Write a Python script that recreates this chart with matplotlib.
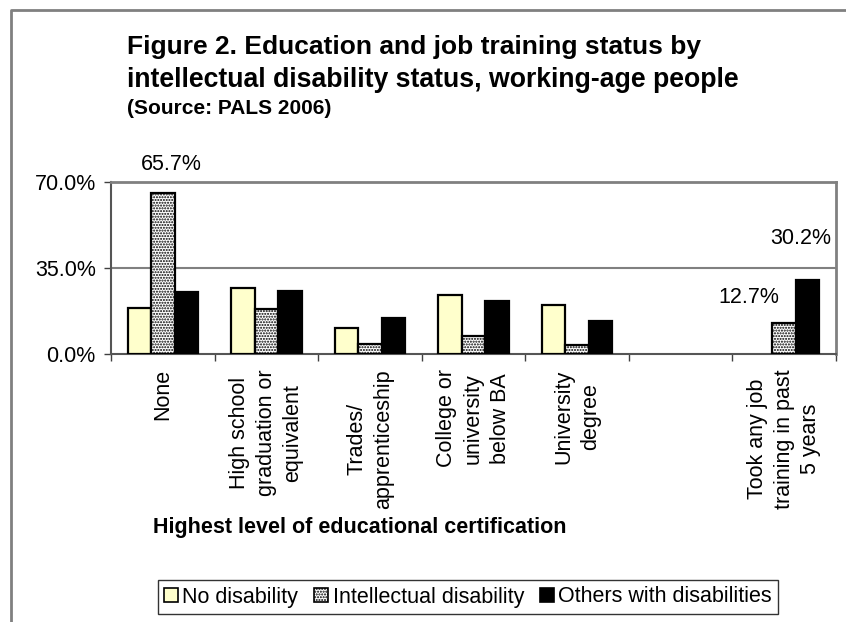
import numpy as np
import matplotlib
matplotlib.use("Agg")
import matplotlib.pyplot as plt
from matplotlib.lines import Line2D
from matplotlib.patches import Patch

plt.rcParams['font.family'] = ['Liberation Sans', 'DejaVu Sans']
plt.rcParams['hatch.linewidth'] = 1.0

# 数据
categories = ["None", "High school\ngraduation or\nequivalent", "Trades/\napprenticeship",
              "College or\nuniversity\nbelow BA", "University\ndegree", "",
              "Took any job\ntraining in past\n5 years"]
no_disability = [18.8, 26.8, 10.6, 23.9, 20.1, np.nan, np.nan]
intellectual = [65.7, 18.5, 3.9, 7.5, 3.7, np.nan, 12.7]
others = [25.4, 25.7, 14.8, 21.7, 13.6, np.nan, 30.2]
series_names = ["No disability", "Intellectual disability", "Others with disabilities"]
y_ticks = [0, 35, 70]
y_tick_labels = ["0.0%", "35.0%", "70.0%"]

fs = 15.5

fig = plt.figure(figsize=(8.46, 6.22), dpi=100)
ax = fig.add_axes([111 / 846, 1 - 354 / 622, 725 / 846, 172 / 622])

x = np.arange(len(categories))
w = 0.227
ax.bar(x - w, no_disability, w, color="#FFFFCC", edgecolor="black", linewidth=1.6, zorder=3)
ax.bar(x, intellectual, w, color="white", edgecolor="black", hatch="......", linewidth=1.6, zorder=3)
ax.bar(x + w, others, w, color="black", edgecolor="black", linewidth=1.6, zorder=3)

ax.set_xlim(-0.5, len(categories) - 0.5)
ax.set_ylim(0, 70)
ax.set_yticks(y_ticks)
ax.set_yticklabels(y_tick_labels, fontsize=fs)
ax.tick_params(axis="y", length=5, width=1, color="#404040", pad=6)
ax.set_xticks(np.arange(-0.5, len(categories), 1.0))
ax.set_xticklabels([])
ax.tick_params(axis="x", length=5, width=1, color="#404040")
ax.axhline(35, color="#808080", linewidth=1.5, zorder=1)

for s in ["top", "right"]:
    ax.spines[s].set_color("#808080")
    ax.spines[s].set_linewidth(2)
ax.spines["left"].set_color("#555555")
ax.spines["left"].set_linewidth(1.5)
ax.spines["bottom"].set_color("#555555")
ax.spines["bottom"].set_linewidth(1.5)

# 类别标签
for i, lab in enumerate(categories):
    ax.annotate(lab, xy=(i, 0), xycoords="data", xytext=(0, -11), textcoords="offset points",
                rotation=90, ha="center", va="top", multialignment="center", fontsize=fs,
                linespacing=1.35, annotation_clip=False)

# 数据标签
bbox = dict(facecolor="white", edgecolor="none", pad=3)
ax.text(0.08, 77, "65.7%", ha="center", va="center", fontsize=fs, bbox=bbox, clip_on=False, zorder=5)
ax.text(6.16, 46.9, "30.2%", ha="center", va="center", fontsize=fs, bbox=bbox, clip_on=False, zorder=5)
ax.text(5.66, 22.8, "12.7%", ha="center", va="center", fontsize=fs, bbox=bbox, clip_on=False, zorder=5)

# 标题
fig.text(127 / 846, 1 - 47 / 622, "Figure 2. Education and job training status by",
         fontsize=19, fontweight="bold", va="center", ha="left")
fig.text(127 / 846, 1 - 80 / 622, "intellectual disability status, working-age people",
         fontsize=19.2, fontweight="bold", va="center", ha="left")
fig.text(127 / 846, 1 - 108 / 622, "(Source: PALS 2006)",
         fontsize=15, fontweight="bold", va="center", ha="left")
fig.text(360 / 846, 1 - 527 / 622, "Highest level of educational certification",
         fontsize=fs, fontweight="bold", va="center", ha="center")

# 图例
handles = [Patch(facecolor="#FFFFCC", edgecolor="black", linewidth=1.2),
           Patch(facecolor="white", edgecolor="black", hatch="......", linewidth=1.2),
           Patch(facecolor="black", edgecolor="black", linewidth=1.2)]
leg = fig.legend(handles, series_names, loc="center", bbox_to_anchor=(468 / 846, 1 - 597 / 622),
                 ncol=3, fontsize=fs, frameon=True, fancybox=False, handlelength=0.65,
                 handleheight=0.65, handletextpad=0.2, columnspacing=0.75, borderpad=0.3,
                 borderaxespad=0)
leg.get_frame().set_edgecolor("black")
leg.get_frame().set_linewidth(1.0)

# 外框
fig.add_artist(Line2D([11 / 846, 11 / 846, 1], [0, 1 - 10 / 622, 1 - 10 / 622],
                      transform=fig.transFigure, color="#808080", linewidth=2))

fig.savefig("out.png", dpi=100)
